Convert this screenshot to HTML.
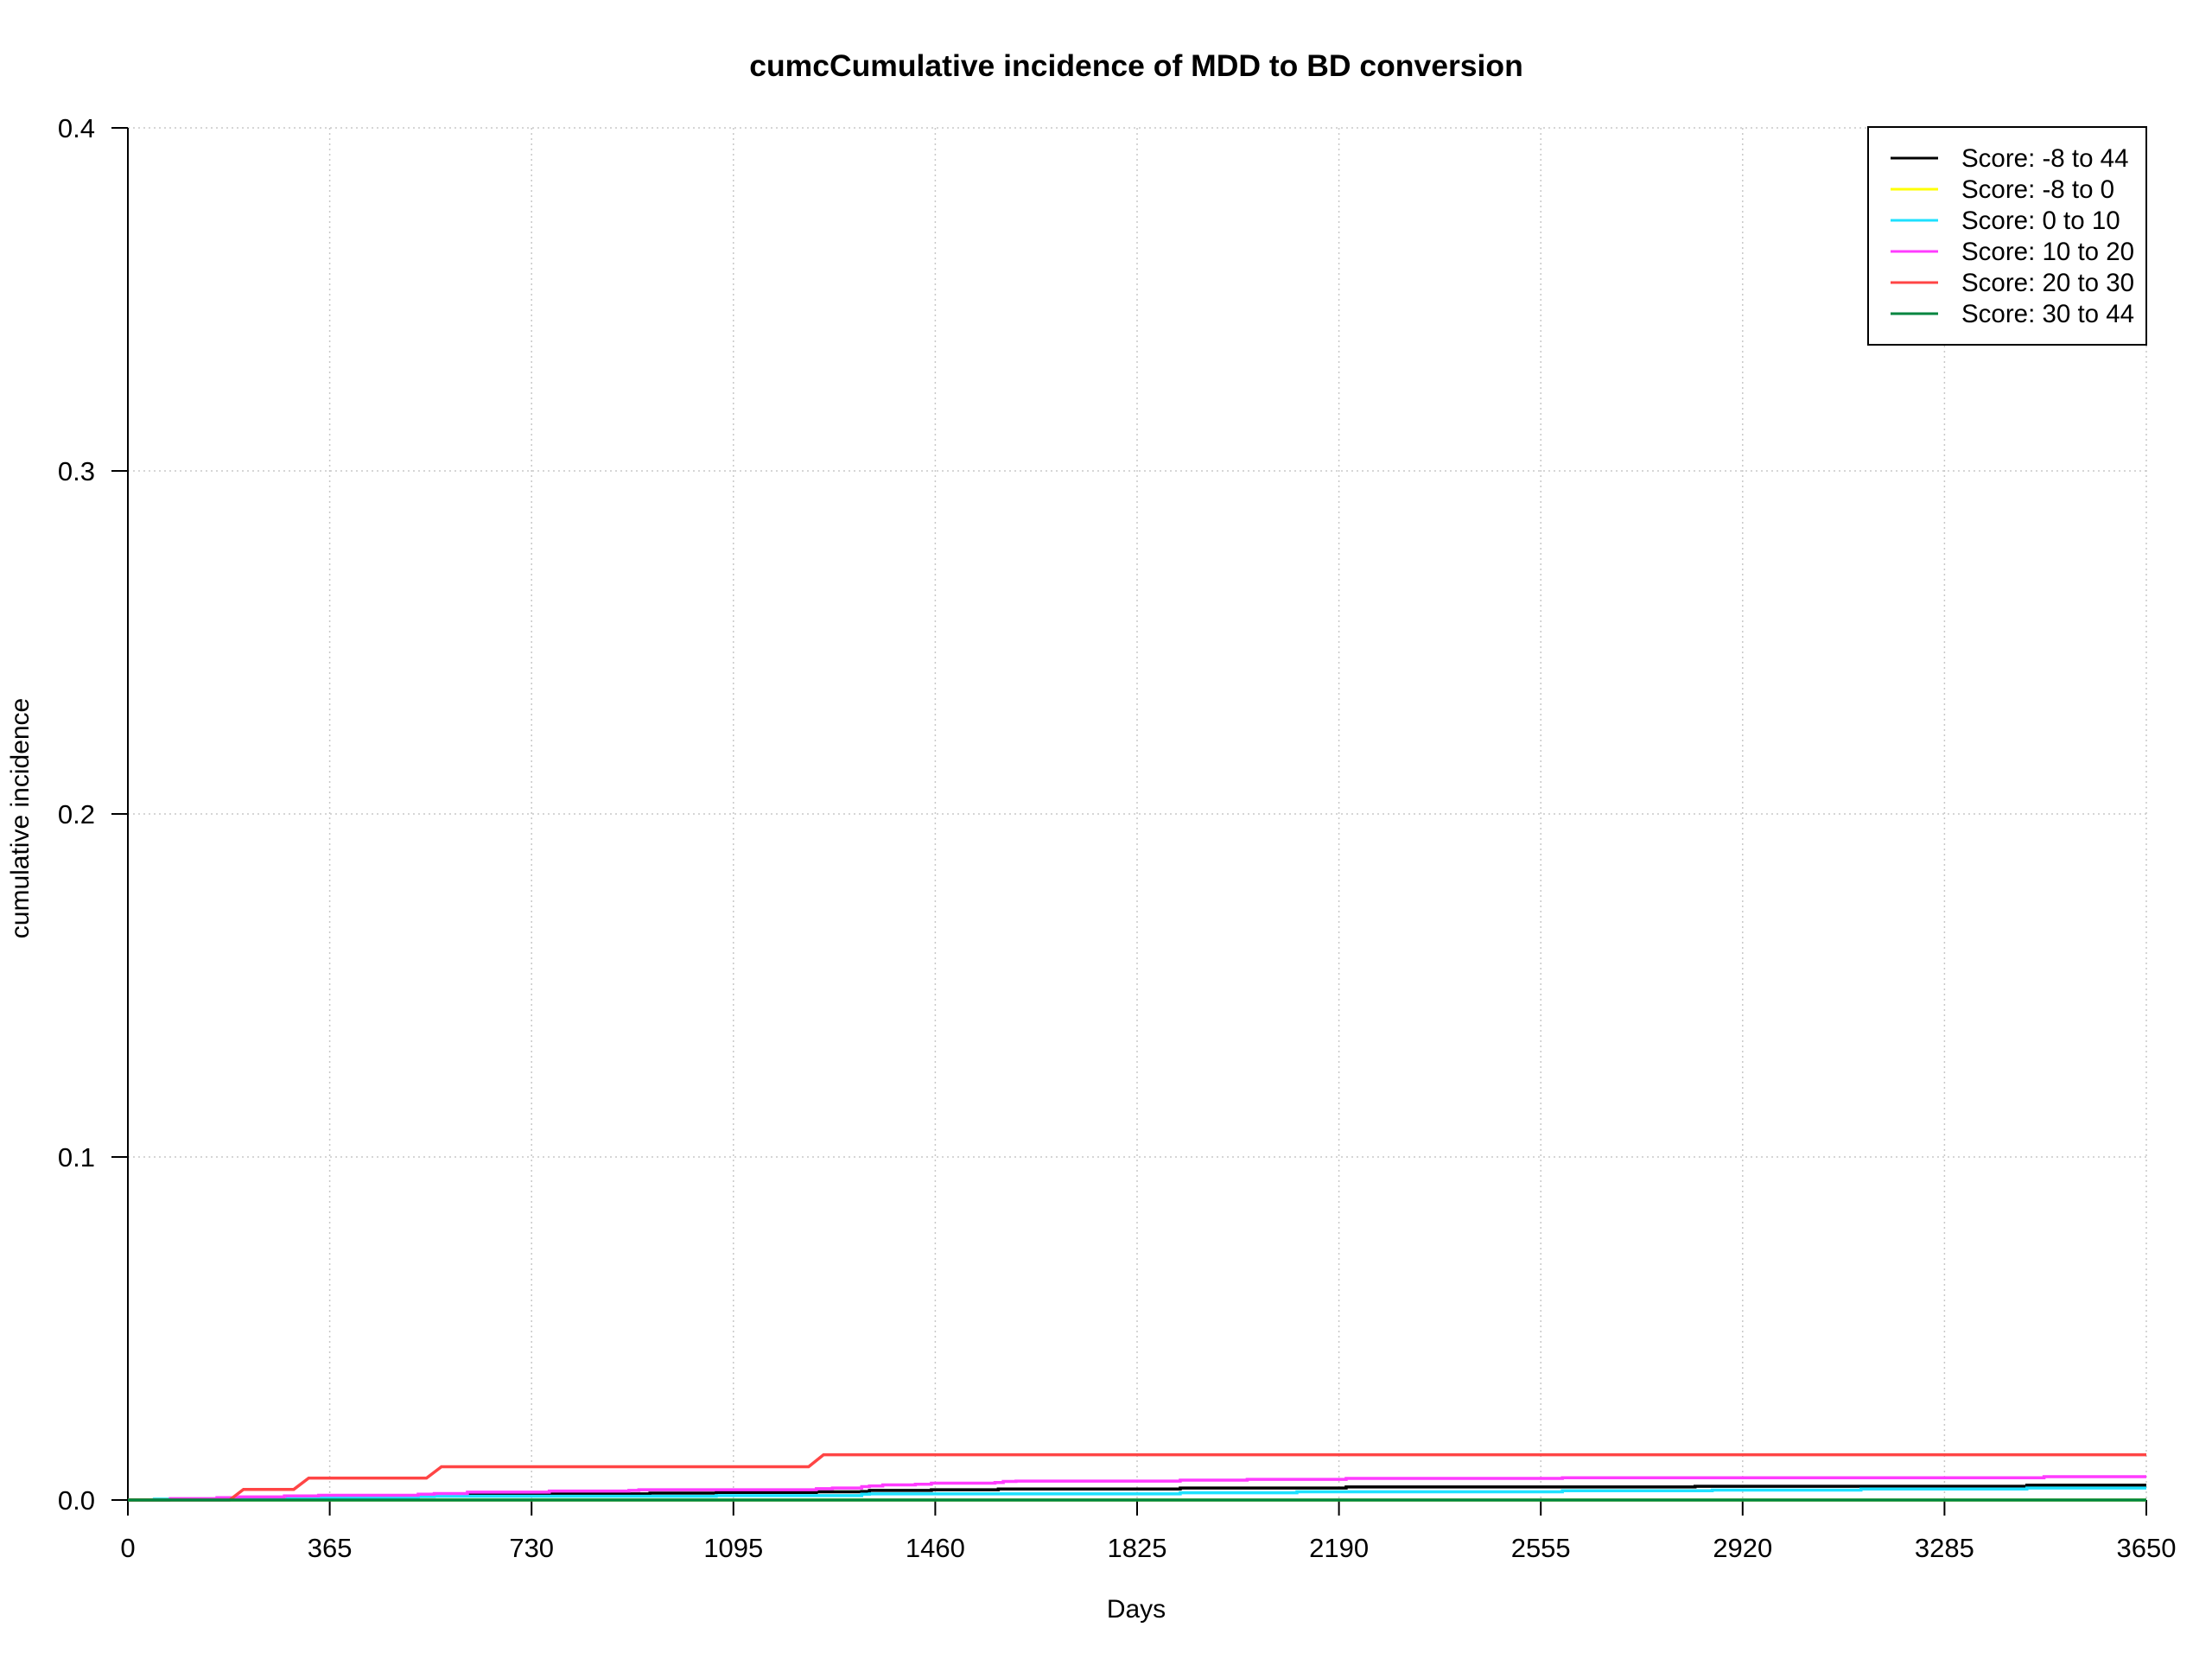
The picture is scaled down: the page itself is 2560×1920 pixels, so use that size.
<!DOCTYPE html>
<html><head><meta charset="utf-8"><style>
html,body{margin:0;padding:0;background:#fff;}
svg{display:block;font-family:"Liberation Sans",Arial,sans-serif;}
</style></head><body>
<svg id="chart" width="2560" height="1920" viewBox="0 0 2560 1920" xmlns="http://www.w3.org/2000/svg">
<rect width="2560" height="1920" fill="#fff"/>
<text x="1315" y="88" text-anchor="middle" font-size="35.5" font-weight="bold">cumcCumulative incidence of MDD to BD conversion</text>
<text x="1315" y="1872" text-anchor="middle" font-size="30">Days</text>
<text transform="translate(33,947) rotate(-90)" text-anchor="middle" font-size="30">cumulative incidence</text>
<g id="grid"></g>
<g id="axes"></g>
<g id="series"></g>
<g id="legend"></g>
</svg>
<script>
const xTicks = [0,365,730,1095,1460,1825,2190,2555,2920,3285,3650];
const yTicks = [0,0.1,0.2,0.3,0.4];
const yTickLabels = ["0.0","0.1","0.2","0.3","0.4"];
const seriesNames = ["Score: -8 to 44","Score: -8 to 0","Score: 0 to 10","Score: 10 to 20","Score: 20 to 30","Score: 30 to 44"];
const seriesColors = ["#000000","#ffff00","#1ee1ff","#ff3cff","#ff4545","#00853f"];
const blackDays = [0,74,202,345,525,614,762,944,1064,1245,1327,1341,1453,1574,1903,2203,2834,3434,3650];
const blackVals = [0,0.0001,0.0005,0.0009,0.0012,0.0016,0.0018,0.002,0.0022,0.0024,0.0025,0.0028,0.003,0.0032,0.0035,0.0038,0.004,0.0043,0.0043];
const yellowDays = [0,3650];
const yellowVals = [0,0];
const cyanDays = [45,202,345,525,554,1064,1327,1341,1903,2114,2594,2865,3134,3434,3650];
const cyanVals = [0.00025,0.0005,0.00075,0.001,0.0011,0.0013,0.0017,0.0018,0.0021,0.0024,0.0027,0.0029,0.0032,0.0035,0.0035];
const magentaDays = [74,161,202,283,345,525,554,614,762,906,924,1245,1274,1327,1341,1365,1424,1453,1568,1583,1606,1903,2024,2203,2594,3465,3650];
const magentaVals = [0.0004,0.0007,0.0009,0.0012,0.0014,0.0017,0.0019,0.0023,0.0026,0.0028,0.003,0.0033,0.0035,0.0039,0.0041,0.0044,0.0046,0.0049,0.0051,0.0054,0.0055,0.0058,0.006,0.0063,0.0065,0.0068,0.0068];
const redDays = [0,184,209,300,327,540,567,1231,1258,3650];
const redVals = [0,0,0.0031,0.0031,0.0064,0.0064,0.0097,0.0097,0.0132,0.0132];
const greenDays = [0,3650];
const greenVals = [0,0];

const X0=148,X1=2484,Y0=1736,Y1=148;
function xs(d){return X0+(d/3650)*(X1-X0);}
function ys(v){return Y0-(v/0.4)*(Y0-Y1);}
const NS="http://www.w3.org/2000/svg";
function mk(tag,attrs,parent){const e=document.createElementNS(NS,tag);for(const k in attrs)e.setAttribute(k,attrs[k]);parent.appendChild(e);return e;}
const grid=document.getElementById('grid'),axes=document.getElementById('axes'),ser=document.getElementById('series'),leg=document.getElementById('legend');
xTicks.forEach((t,i)=>{
  const g=mk('line',{x1:xs(t),x2:xs(t),y1:Y1,y2:Y0,stroke:'#c8c8c8','stroke-width':1.5,'stroke-dasharray':'2,4'},grid);
  
  
  const tk=mk('line',{x1:xs(t),x2:xs(t),y1:Y0,y2:Y0+18,stroke:'#000','stroke-width':2},axes);
  
  
  const tl=mk('text',{x:xs(t),y:1802,'text-anchor':'middle','font-size':31},axes);
  tl.textContent=String(t);
  
  
});
yTicks.forEach((t,i)=>{
  const g=mk('line',{x1:X0,x2:X1,y1:ys(t),y2:ys(t),stroke:'#c8c8c8','stroke-width':1.5,'stroke-dasharray':'2,4'},grid);
  
  
  const tk=mk('line',{x1:X0-19,x2:X0,y1:ys(t),y2:ys(t),stroke:'#000','stroke-width':2},axes);
  
  
  const tl=mk('text',{x:110,y:ys(t)+11,'text-anchor':'end','font-size':31},axes);
  tl.textContent=yTickLabels[i];
  
  
});
const ya=mk('line',{x1:X0,x2:X0,y1:Y1,y2:Y0,stroke:'#000','stroke-width':2},axes);


const xa=mk('line',{x1:X0,x2:X1,y1:Y0,y2:Y0,stroke:'#000','stroke-width':2},axes);



function stepPath(days,vals){
  let d='M'+xs(days[0])+','+ys(vals[0]);
  for(let i=1;i<days.length;i++){d+=' H'+xs(days[i])+' V'+ys(vals[i]);}
  return d;
}
function linePath(days,vals){
  return days.map((t,i)=>(i?'L':'M')+xs(t)+','+ys(vals[i])).join(' ');
}
const drawList=[
  [blackDays,blackVals,0,'step','series-score-m8-to-44'],
  [yellowDays,yellowVals,1,'step','series-score-m8-to-0'],
  [cyanDays,cyanVals,2,'step','series-score-0-to-10'],
  [magentaDays,magentaVals,3,'step','series-score-10-to-20'],
  [redDays,redVals,4,'line','series-score-20-to-30'],
  [greenDays,greenVals,5,'step','series-score-30-to-44']
];
drawList.forEach(s=>{
  const p=mk('path',{d:s[3]==='step'?stepPath(s[0],s[1]):linePath(s[0],s[1]),fill:'none',stroke:seriesColors[s[2]],'stroke-width':3.5},ser);
  
  
});
const box=mk('rect',{x:2162,y:147,width:322,height:252,fill:'#fff',stroke:'#000','stroke-width':2},leg);


seriesNames.forEach((n,i)=>{
  const y=183+i*36;
  const l=mk('line',{x1:2188,x2:2243,y1:y,y2:y,stroke:seriesColors[i],'stroke-width':3},leg);
  
  
  const t=mk('text',{x:2270,y:y+10,'font-size':29.5},leg);
  t.textContent=n;
  
  
});
</script>
</body></html>
